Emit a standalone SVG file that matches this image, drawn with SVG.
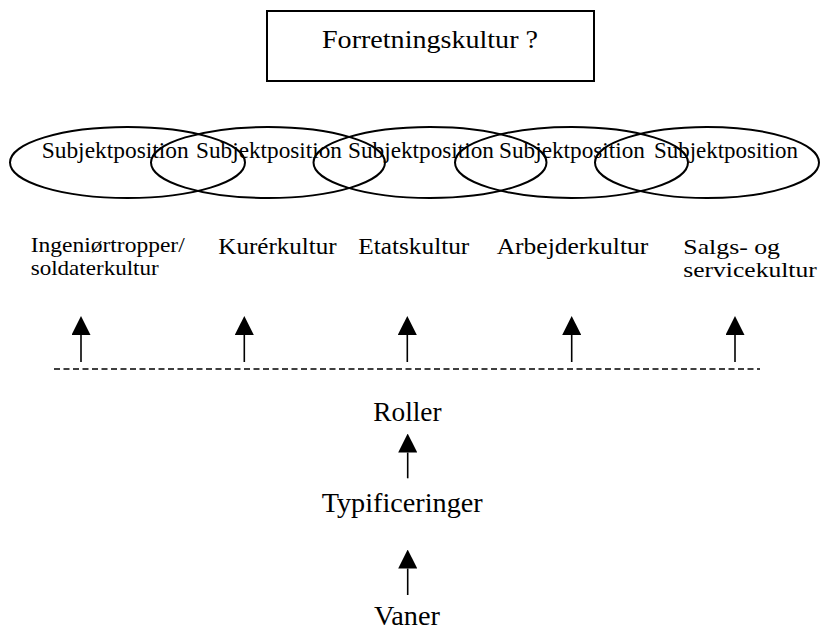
<svg xmlns="http://www.w3.org/2000/svg" width="820" height="631" viewBox="0 0 820 631">
<defs>
<style>
text{font-family:"Times New Roman","Liberation Serif",Tinos,serif;fill:#000}
.lbl{font-size:24px}
.lbl2{font-size:21.5px}
.sp{font-size:22.5px}
.big{font-size:27px}
.ell{fill:none;stroke:#000;stroke-width:2}
.box{fill:#fff;stroke:#000;stroke-width:2}
.arr{stroke:#000;stroke-width:1.6;fill:none;marker-end:url(#ah)}
.dash{stroke:#000;stroke-width:1.5;stroke-dasharray:6 3.5;fill:none}
</style>
<marker id="ah" viewBox="0 0 20 20" markerWidth="19" markerHeight="19" refX="0" refY="10" orient="auto" markerUnits="userSpaceOnUse">
<path d="M0,0 L20,10 L0,20 z" fill="#000"/>
</marker>
</defs>
<rect width="820" height="631" fill="#fff"/>

<g id="forretningskultur">
<rect class="box" x="267" y="11" width="327" height="70"/>
<text x="322" y="48" font-size="25" textLength="216" lengthAdjust="spacingAndGlyphs">Forretningskultur ?</text>
</g>

<g id="subjektpositioner">
<g id="sp1"><ellipse class="ell" cx="127.5" cy="162.5" rx="117.5" ry="35.5"/></g>
<g id="sp2"><ellipse class="ell" cx="268" cy="162.5" rx="117" ry="35.5"/></g>
<g id="sp3"><ellipse class="ell" cx="430" cy="162.5" rx="116.5" ry="35.5"/></g>
<g id="sp4"><ellipse class="ell" cx="571.5" cy="162.5" rx="116.5" ry="35.5"/></g>
<g id="sp5"><ellipse class="ell" cx="707" cy="162.5" rx="112" ry="35.5"/></g>
<text class="sp" x="41.7" y="158.3" textLength="147" lengthAdjust="spacingAndGlyphs">Subjektposition</text>
<text class="sp" x="196" y="158.3" textLength="146" lengthAdjust="spacingAndGlyphs">Subjektposition</text>
<text class="sp" x="348" y="158.3" textLength="146" lengthAdjust="spacingAndGlyphs">Subjektposition</text>
<text class="sp" x="499" y="158.3" textLength="146" lengthAdjust="spacingAndGlyphs">Subjektposition</text>
<text class="sp" x="654" y="158.3" textLength="144" lengthAdjust="spacingAndGlyphs">Subjektposition</text>
</g>

<g id="ingenior">
<text class="lbl2" x="30.7" y="252" textLength="154" lengthAdjust="spacingAndGlyphs">Ingeniørtropper/</text>
<text class="lbl2" x="30.7" y="275" textLength="128" lengthAdjust="spacingAndGlyphs">soldaterkultur</text>
</g>
<g id="kurer"><text class="lbl" x="218.3" y="254.3" textLength="118.4" lengthAdjust="spacingAndGlyphs">Kurérkultur</text></g>
<g id="etats"><text class="lbl" x="358.3" y="254.3" textLength="111" lengthAdjust="spacingAndGlyphs">Etatskultur</text></g>
<g id="arbejder"><text class="lbl" x="496.7" y="254.3" textLength="151.6" lengthAdjust="spacingAndGlyphs">Arbejderkultur</text></g>
<g id="salgs">
<text class="lbl2" x="683.3" y="254.3" textLength="96.7" lengthAdjust="spacingAndGlyphs">Salgs- og</text>
<text class="lbl2" x="683.3" y="276.7" textLength="133.4" lengthAdjust="spacingAndGlyphs">servicekultur</text>
</g>

<g id="roller"><text class="big" x="373.3" y="421" textLength="68.3" lengthAdjust="spacingAndGlyphs">Roller</text></g>
<g id="typificeringer"><text class="big" x="321.7" y="512.3" textLength="161" lengthAdjust="spacingAndGlyphs">Typificeringer</text></g>
<g id="vaner"><text class="big" x="374" y="625" textLength="66" lengthAdjust="spacingAndGlyphs">Vaner</text></g>

<g id="baseline">
<line class="dash" x1="54" y1="369" x2="760" y2="369"/>
</g>

<g id="connectors">
<line class="arr" x1="81" y1="362" x2="81" y2="335"/>
<line class="arr" x1="244.3" y1="362" x2="244.3" y2="335"/>
<line class="arr" x1="407.3" y1="362" x2="407.3" y2="335"/>
<line class="arr" x1="571.7" y1="362" x2="571.7" y2="335"/>
<line class="arr" x1="735" y1="362" x2="735" y2="335"/>
<line class="arr" x1="407.7" y1="478.3" x2="407.7" y2="452.5"/>
<line class="arr" x1="407.7" y1="595" x2="407.7" y2="568.5"/>
</g>
</svg>
